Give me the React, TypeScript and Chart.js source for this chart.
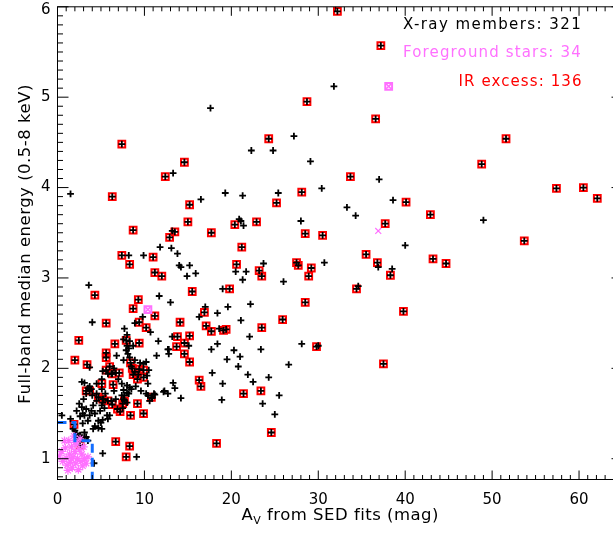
import { useEffect, useRef } from 'react';
import { Chart, registerables } from 'chart.js';

Chart.register(...registerables);

// ---------- data ----------
// X-ray members with IR excess (red squares)
const irX = [32.2, 37.2, 28.7, 36.6, 33.7, 28.1, 40.1, 24.3, 7.4, 14.6, 12.4, 6.3, 15.2, 25.2, 15.0, 20.4, 22.9, 8.7, 13.5, 12.9, 17.7, 28.5, 30.5, 21.2, 7.4, 11.0, 8.3, 20.6, 27.5, 27.7, 29.2, 11.2, 12.0, 23.2, 23.5, 28.9, 9.3, 15.5, 19.8, 28.5, 8.7, 11.2, 9.4, 5.6, 10.2, 14.1, 16.9, 17.1, 17.7, 19.1, 19.4, 23.5, 25.9, 13.8, 14.6, 15.2, 13.7, 9.4, 6.6, 7.9, 29.8, 2.45, 14.6, 5.6, 5.6, 15.2, 2.0, 3.4, 8.4, 8.6, 9.4, 9.9, 8.9, 8.7, 9.9, 9.2, 5.6, 6.0, 6.3, 7.1, 5.1, 6.4, 3.3, 3.7, 4.7, 5.2, 5.8, 6.3, 6.9, 7.2, 7.5, 7.7, 9.2, 9.9, 8.4, 10.8, 16.3, 1.9, 2.6, 6.7, 8.3, 7.9, 4.3, 18.3, 24.6, 48.8, 51.6, 37.7, 42.9, 35.5, 34.4, 36.8, 38.3, 37.5, 39.8, 43.2, 44.7, 53.7, 57.4, 60.5, 62.1, 16.5, 23.4, 21.4];
const irY = [5.95, 5.57, 4.95, 4.76, 4.12, 3.95, 3.84, 4.54, 4.48, 4.28, 4.12, 3.90, 3.81, 3.83, 3.62, 3.59, 3.62, 3.53, 3.51, 3.45, 3.50, 3.49, 3.47, 3.34, 3.25, 3.23, 3.15, 3.15, 3.17, 3.14, 3.11, 3.06, 3.02, 3.08, 3.02, 3.02, 2.76, 2.85, 2.88, 2.73, 2.66, 2.58, 2.51, 2.50, 2.45, 2.51, 2.62, 2.47, 2.41, 2.42, 2.43, 2.45, 2.54, 2.35, 2.28, 2.36, 2.24, 2.28, 2.27, 2.31, 2.24, 2.31, 2.16, 2.17, 2.12, 2.07, 2.09, 2.04, 2.06, 2.00, 1.99, 1.98, 1.96, 1.93, 1.90, 1.88, 1.98, 2.02, 1.94, 1.95, 1.83, 1.82, 1.75, 1.75, 1.68, 1.66, 1.64, 1.60, 1.55, 1.52, 1.61, 1.64, 1.61, 1.50, 1.48, 1.68, 1.87, 1.38, 1.15, 1.19, 1.14, 1.02, 2.81, 1.17, 1.29, 4.26, 4.54, 3.60, 3.70, 3.26, 2.88, 3.17, 3.03, 2.05, 2.63, 3.21, 3.16, 3.41, 3.99, 4.00, 3.88, 1.80, 1.75, 1.72];

// X-ray members without IR excess (black crosses only)
const plainX = [31.8, 29.1, 37.0, 30.4, 38.6, 17.6, 27.2, 22.3, 24.8, 13.3, 19.3, 21.3, 25.4, 16.5, 33.3, 20.9, 21.1, 21.4, 28.0, 13.2, 11.8, 13.1, 13.8, 8.2, 9.9, 14.0, 14.2, 15.2, 23.7, 30.7, 14.9, 15.9, 20.5, 21.7, 21.3, 26.0, 11.7, 13.0, 19.0, 22.2, 9.8, 8.9, 7.7, 10.7, 17.0, 16.3, 18.4, 19.6, 18.6, 21.1, 22.1, 13.2, 15.1, 12.8, 18.4, 17.7, 30.0, 23.4, 20.3, 1.5, 3.6, 4.0, 34.3, 36.9, 40.0, 34.6, 49.0, 38.5,
  8.0, 7.6, 8.3, 8.0, 8.2, 8.7, 7.9, 11.6, 6.8, 8.1, 8.3, 11.4, 12.8, 12.7, 3.7, 3.1, 2.8, 8.5, 9.5, 10.2, 9.9, 9.3, 7.6, 8.9, 10.5, 10.3, 10.4, 5.2, 5.8, 6.2, 6.7, 3.5, 3.7, 3.3, 4.5, 5.1, 4.5, 5.1, 3.9, 7.4, 7.6, 8.0, 8.3, 8.0, 5.3, 5.2, 5.1, 6.2, 6.7, 7.5, 8.0, 7.7, 8.2, 8.5, 11.2, 10.9, 12.3, 12.7, 13.3, 13.5, 14.2, 12.2, 10.2, 10.4, 11.1, 10.6, 4.5, 4.1, 5.4, 4.9, 7.4, 7.6, 5.7, 5.2, 5.1, 2.5, 2.8, 2.2, 2.9, 3.1, 2.6, 1.5, 0.5, 1.8, 2.0, 2.3, 2.6, 4.1, 4.3, 4.7, 5.0, 5.8, 6.0, 5.2, 9.1, 4.2, 2.4, 3.3, 3.9, 3.7, 4.3, 4.7, 3.5, 2.9, 2.2, 3.1, 2.8, 3.3, 3.5, 6.5, 7.0, 4.0, 3.0, 9.0, 9.6, 6.5, 5.5,
  19.5, 20.8, 21.9, 17.8, 19.0, 22.5, 24.3, 25.5, 23.6, 25.0, 28.1, 18.9, 21.0, 26.6];
const plainY = [5.12, 4.29, 4.09, 3.99, 3.86, 4.88, 4.57, 4.41, 4.41, 4.16, 3.94, 3.91, 3.94, 3.87, 3.78, 3.65, 3.63, 3.58, 3.63, 3.52, 3.34, 3.33, 3.27, 3.25, 3.25, 3.14, 3.12, 3.14, 3.16, 3.17, 3.02, 3.05, 3.07, 3.07, 2.98, 2.96, 2.80, 2.73, 2.88, 2.71, 2.57, 2.50, 2.44, 2.40, 2.68, 2.57, 2.61, 2.68, 2.44, 2.53, 2.35, 2.35, 2.25, 2.21, 2.27, 2.21, 2.25, 2.21, 2.20, 3.93, 2.92, 2.51, 3.69, 3.12, 3.36, 2.91, 3.64, 3.10,
  2.37, 2.32, 2.30, 2.25, 2.22, 2.25, 2.20, 2.30, 2.14, 2.16, 2.12, 2.14, 2.16, 2.21, 2.01, 1.84, 1.85, 2.02, 2.06, 2.07, 2.05, 1.93, 2.09, 2.09, 1.98, 1.92, 1.83, 1.97, 1.94, 1.94, 1.95, 1.78, 1.80, 1.72, 1.83, 1.77, 1.72, 1.88, 1.77, 1.83, 1.76, 1.81, 1.79, 1.73, 1.66, 1.62, 1.59, 1.64, 1.66, 1.56, 1.62, 1.70, 1.72, 1.77, 1.71, 1.67, 1.75, 1.72, 1.84, 1.78, 1.67, 1.74, 1.72, 1.70, 1.72, 1.64, 1.64, 1.59, 1.56, 1.53, 1.70, 1.66, 1.48, 1.43, 1.33, 1.61, 1.57, 1.53, 1.50, 1.48, 1.47, 1.44, 1.48, 1.33, 1.31, 1.24, 1.26, 1.33, 1.36, 1.34, 1.40, 1.44, 1.48, 1.06, 1.02, 0.95, 1.21, 1.55, 1.53, 1.48, 1.50, 1.42, 1.42, 1.39, 1.28, 1.29, 1.22, 1.24, 1.20, 2.00, 1.88, 1.70, 1.66, 1.80, 1.75, 1.75, 1.72,
  2.10, 2.02, 1.93, 1.95, 1.83, 1.85, 1.90, 1.70, 1.61, 1.49, 2.27, 1.65, 2.13, 2.04];

// Foreground stars (magenta)
const fgX = [0.2, 0.5, 0.6, 0.9, 1.0, 1.1, 1.3, 1.4, 1.5, 1.6, 1.7, 1.8, 1.9, 2.0, 2.1, 2.2, 2.3, 2.4, 2.5, 2.6, 2.7, 2.8, 2.9, 3.0, 3.1, 3.3, 3.5, 1.2, 0.8, 2.0, 1.6, 36.9];
const fgY = [1.03, 1.08, 0.97, 1.12, 1.01, 0.93, 1.20, 1.05, 0.96, 1.13, 0.90, 1.02, 1.25, 1.08, 0.95, 1.16, 1.00, 0.88, 1.10, 1.22, 0.97, 1.05, 0.92, 1.13, 1.00, 0.95, 1.02, 0.87, 1.20, 1.18, 1.00, 3.52];
// Foreground stars that also show IR excess
const fgIrX = [10.4, 38.1];
const fgIrY = [2.65, 5.12];

// Dashed boundary (blue)
const boundaryX = [0, 2, 2, 4, 4];
const boundaryY = [1.4, 1.4, 1.2, 1.2, 0.77];

// Axes
const xMin = 0, xMax = 65, yMin = 0.77, yMax = 6;
const xTicks = [0, 10, 20, 30, 40, 50, 60];
const yTicks = [1, 2, 3, 4, 5, 6];
const xTitleMain = 'A';
const xTitleSub = 'V';
const xTitleRest = ' from SED fits (mag)';
const yTitle = 'Full-band median energy (0.5-8 keV)';
const legendLines = ['X-ray members: 321', 'Foreground stars: 34', 'IR excess: 136'];

const MAGENTA = '#ff70ff';
const RED = '#ff0000';
const BLUE = 'rgb(20,110,255)';
const FONT = '"DejaVu Sans", sans-serif';

const pts = (xs: number[], ys: number[]) => xs.map((x, i) => ({ x, y: ys[i] }));

function spaced(ctx: any, text: string, left: number, y: number, target: number) {
  ctx.letterSpacing = '0px';
  const w0 = ctx.measureText(text).width;
  const n = Array.from(text).length;
  const ls = n > 1 ? (target - w0) / (n - 1) : 0;
  ctx.letterSpacing = ls + 'px';
  ctx.textAlign = 'left';
  ctx.fillText(text, left, y);
  ctx.letterSpacing = '0px';
}

const idlAxes = {
  id: 'idlAxes',
  afterDraw(chart: any) {
    const { ctx, chartArea: a, scales } = chart;
    const xs = scales.x, ys = scales.y;
    ctx.save();
    ctx.strokeStyle = '#000';
    ctx.lineWidth = 1;
    ctx.strokeRect(a.left, a.top, a.right - a.left, a.bottom - a.top);
    ctx.beginPath();
    for (let i = Math.ceil(xMin); i <= xMax; i++) {
      const px = xs.getPixelForValue(i);
      const len = i % 10 === 0 ? 9 : 4.5;
      ctx.moveTo(px, a.bottom); ctx.lineTo(px, a.bottom - len);
      ctx.moveTo(px, a.top); ctx.lineTo(px, a.top + len);
    }
    for (let i = Math.ceil(yMin * 10); i <= yMax * 10; i++) {
      const py = ys.getPixelForValue(i / 10);
      const len = i % 10 === 0 ? 11 : 5.5;
      ctx.moveTo(a.left, py); ctx.lineTo(a.left + len, py);
      ctx.moveTo(a.right, py); ctx.lineTo(a.right - len, py);
    }
    ctx.stroke();

    ctx.fillStyle = '#000';
    ctx.font = '15px ' + FONT;
    ctx.textAlign = 'center';
    ctx.textBaseline = 'alphabetic';
    xTicks.forEach((v) => ctx.fillText(String(v), xs.getPixelForValue(v), a.bottom + 24.5));
    ctx.textAlign = 'right';
    ctx.textBaseline = 'middle';
    yTicks.forEach((v) => ctx.fillText(String(v), a.left - 7, Math.max(ys.getPixelForValue(v), 10.5)));

    // x title with subscript
    ctx.textBaseline = 'alphabetic';
    const big = '16.5px ' + FONT, small = '11px ' + FONT;
    ctx.letterSpacing = '0px';
    ctx.font = big;
    const wA = ctx.measureText(xTitleMain).width;
    const wR = ctx.measureText(xTitleRest).width;
    ctx.font = small;
    const wV = ctx.measureText(xTitleSub).width;
    const target = 197;
    const nChars = xTitleMain.length + xTitleSub.length + xTitleRest.length;
    const ls = (target - (wA + wV + wR)) / (nChars - 1);
    const cx = (a.left + Math.min(a.right, 622.5)) / 2;
    let x0 = cx - target / 2;
    const base = a.bottom + 40.5;
    ctx.textAlign = 'left';
    ctx.letterSpacing = ls + 'px';
    ctx.font = big; ctx.fillText(xTitleMain, x0, base); x0 += ctx.measureText(xTitleMain).width;
    ctx.font = small; ctx.fillText(xTitleSub, x0, base + 3.5); x0 += ctx.measureText(xTitleSub).width;
    ctx.font = big; ctx.fillText(xTitleRest, x0, base);
    ctx.letterSpacing = '0px';

    // y title
    ctx.save();
    ctx.translate(30, (a.top + a.bottom) / 2 + 1);
    ctx.rotate(-Math.PI / 2);
    ctx.font = '16.5px ' + FONT;
    spaced(ctx, yTitle, -319 / 2, 0, 319);
    ctx.restore();

    // legend text
    ctx.font = '15px ' + FONT;
    const colors = ['#000', MAGENTA, RED];
    const lefts = [403, 403, 458.5];
    const rights = [580.7, 580.7, 581.5];
    const bases = [29.3, 57.3, 86];
    legendLines.forEach((t, i) => {
      ctx.fillStyle = colors[i];
      spaced(ctx, t, lefts[i], bases[i], rights[i] - lefts[i]);
    });
    ctx.restore();
  },
};

export default function App() {
  const ref = useRef<HTMLCanvasElement>(null);
  useEffect(() => {
    if (!ref.current) return;
    const xray = [...pts(irX, irY), ...pts(plainX, plainY)];
    const chart = new Chart(ref.current, {
      type: 'scatter',
      data: {
        datasets: [
          {
            label: 'boundary',
            data: pts(boundaryX, boundaryY),
            showLine: true,
            borderColor: BLUE,
            borderWidth: 3,
            borderDash: [9, 5],
            pointRadius: 0,
            tension: 0,
            order: 0,
          } as any,
          {
            label: 'Foreground stars',
            data: pts(fgX, fgY),
            pointStyle: (c: any) => (c.raw && c.raw.x < 6 ? 'star' : 'crossRot'),
            pointRadius: 4.2,
            pointHoverRadius: 4.2,
            borderColor: MAGENTA,
            backgroundColor: MAGENTA,
            borderWidth: 1.2,
            order: 1,
          },
          {
            label: 'Foreground IR x',
            data: pts(fgIrX, fgIrY),
            pointStyle: 'crossRot',
            pointRadius: 3.5,
            pointHoverRadius: 3.5,
            borderColor: MAGENTA,
            borderWidth: 1.5,
            order: 1,
          },
          {
            label: 'Foreground IR sq',
            data: pts(fgIrX, fgIrY),
            pointStyle: 'rect',
            pointRadius: 4.8,
            pointHoverRadius: 4.8,
            borderColor: MAGENTA,
            backgroundColor: 'rgba(0,0,0,0)',
            borderWidth: 2,
            order: 2,
          },
          {
            label: 'X-ray members',
            data: xray,
            pointStyle: 'cross',
            pointRadius: 3.4,
            pointHoverRadius: 3.4,
            borderColor: '#000',
            borderWidth: 1.8,
            order: 3,
          },
          {
            label: 'IR excess',
            data: pts(irX, irY),
            pointStyle: 'rect',
            pointRadius: 4.8,
            pointHoverRadius: 4.8,
            borderColor: RED,
            backgroundColor: 'rgba(0,0,0,0)',
            borderWidth: 2,
            order: 4,
          },
        ],
      },
      options: {
        responsive: false,
        devicePixelRatio: 1,
        animation: false,
        events: [],
        layout: { padding: { left: 57.5, right: 17.5, top: 3.5, bottom: 53.5 } },
        plugins: { legend: { display: false }, tooltip: { enabled: false } },
        scales: {
          x: { type: 'linear', min: xMin, max: xMax, display: false },
          y: { type: 'linear', min: yMin, max: yMax, display: false },
        },
      },
      plugins: [idlAxes],
    });
    return () => chart.destroy();
  }, []);
  return (
    <div style={{ position: 'fixed', left: 0, top: 0, width: 613, height: 533, overflow: 'hidden', background: '#fff' }}>
      <canvas ref={ref} width={640} height={533} style={{ display: 'block', width: 640, height: 533 }} />
    </div>
  );
}
